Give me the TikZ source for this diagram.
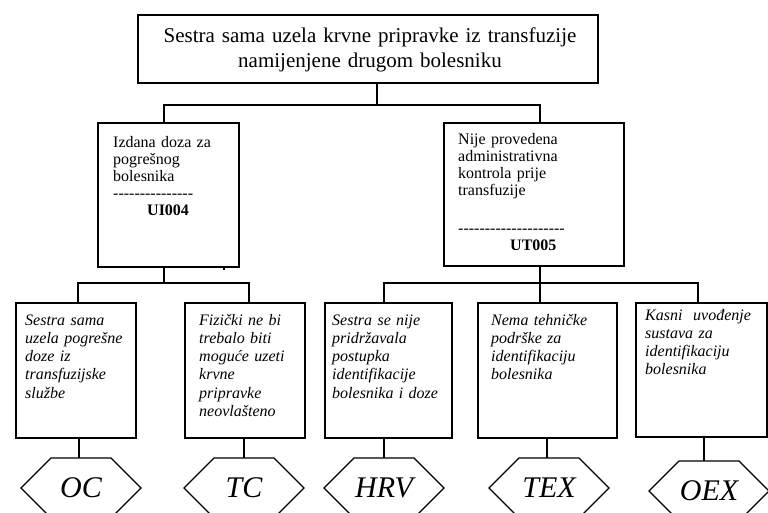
\documentclass[tikz,border=0pt]{standalone}
\usepackage{fontspec}
\setmainfont{Liberation Serif}
\newfontfamily\nolig{Liberation Serif}[Ligatures=TeXOff]
\usetikzlibrary{calc}
\begin{document}
\begin{tikzpicture}[x=1pt,y=-1pt,
  box/.style={draw, line width=1.6pt, inner sep=0pt, anchor=north west},
  conn/.style={line width=1.4pt},
  midtxt/.style={anchor=base west, inner sep=0pt, text width=#1, align=left, font=\fontsize{16}{17}\selectfont},
  lowtxt/.style={anchor=base west, inner sep=0pt, text width=#1, align=left, font=\fontsize{16}{18.3}\selectfont\itshape},
  hexlab/.style={minimum width=120pt, minimum height=60pt, inner sep=0pt, outer sep=0pt, font=\fontsize{30}{30}\selectfont\itshape},
  hexline/.style={line width=1.3pt, line join=miter}
]
\useasboundingbox (0,0) rectangle (768,513);

% top
\node[box, minimum width=460pt, minimum height=68pt] (top) at (137,14) {};
\node[anchor=base, inner sep=0pt, text width=450pt, align=center, font=\fontsize{21}{25}\selectfont] (toptxt) at (370,43) {Sestra sama uzela krvne pripravke iz transfuzije\\namijenjene drugom bolesniku};

% middle
\node[box, minimum width=141pt, minimum height=144pt] (ml) at (97,122) {};
\node[midtxt=130pt] (mltxt) at (113,148) {Izdana doza za\\pogrešnog\\bolesnika\\{\nolig ---------------}\\\hspace*{34pt}\textbf{UI004}};

\node[box, minimum width=180pt, minimum height=143pt] (mr) at (443,122) {};
\node[midtxt=165pt] (mrtxt) at (458,145) {Nije provedena\\administrativna\\kontrola prije\\transfuzije\\[21pt]{\nolig --------------------}\\\hspace*{52pt}\textbf{UT005}};

% bottom boxes
\node[box, minimum width=120pt, minimum height=135pt] (b1) at (15,302) {};
\node[box, minimum width=120pt, minimum height=135pt] (b2) at (184,302) {};
\node[box, minimum width=127pt, minimum height=135pt] (b3) at (324,302) {};
\node[box, minimum width=139pt, minimum height=135pt] (b4) at (477,302) {};
\node[box, minimum width=131pt, minimum height=134pt] (b5) at (635,302) {};

\node[lowtxt=115pt] (t1) at (25,325) {Sestra sama\\uzela pogrešne\\doze iz\\transfuzijske\\službe};
\node[lowtxt=110pt] (t2) at (199,325) {Fizički ne bi\\trebalo biti\\moguće uzeti\\krvne\\pripravke\\neovlašteno};
\node[lowtxt=120pt] (t3) at (332,325) {Sestra se nije\\pridržavala\\postupka\\identifikacije\\bolesnika i doze};
\node[lowtxt=120pt] (t4) at (491,325) {Nema tehničke\\podrške za\\identifikaciju\\bolesnika};
\node[lowtxt=120pt] (t5) at (645,320) {Kasni~ uvođenje\\sustava za\\identifikaciju\\bolesnika};

% hexagons
\node[hexlab] (h1) at (81,488) {OC};
\node[hexlab] (h2) at (244,488) {TC};
\node[hexlab] (h3) at (384,488) {HRV};
\node[hexlab] (h4) at (549,488) {TEX};
\node[hexlab] (h5) at (709,491) {OEX};
\foreach \h in {h1,h2,h3,h4,h5}
  \draw[hexline] (\h.west) -- ($(\h.north west)+(30,0)$) -- ($(\h.north east)+(-30,0)$) -- (\h.east) -- ($(\h.south east)+(-30,0)$) -- ($(\h.south west)+(30,0)$) -- cycle;

% connectors
\coordinate (j0) at (377,105);
\coordinate (bA) at (164,105);
\coordinate (bB) at (540,105);
\draw[conn] (top.south -| j0) -- (j0);
\draw[conn] (bA |- ml.north) -- (bA) -- (bB) -- (bB |- mr.north);

\coordinate (cA) at (164,283);
\coordinate (c1) at (78,283);
\coordinate (c2) at (249,283);
\draw[conn] (cA |- ml.south) -- (cA);
\draw[conn] (c1 |- b1.north) -- (c1) -- (c2) -- (c2 |- b2.north);

\coordinate (dA) at (540,283);
\coordinate (d3) at (384,283);
\coordinate (d5) at (698,283);
\draw[conn] (dA |- mr.south) -- (dA);
\draw[conn] (d3 |- b3.north) -- (d3) -- (d5) -- (d5 |- b5.north);
\draw[conn] (dA) -- (dA |- b4.north);

\coordinate (tk) at (224,270);
\draw[line width=1.2pt] (ml.south -| tk) -- (tk);

\coordinate (e1) at (79,0);
\coordinate (e2) at (244,0);
\coordinate (e3) at (384,0);
\coordinate (e4) at (547,0);
\coordinate (e5) at (704,0);
\draw[conn] (b1.south -| e1) -- (h1.north -| e1);
\draw[conn] (b2.south -| e2) -- (h2.north -| e2);
\draw[conn] (b3.south -| e3) -- (h3.north -| e3);
\draw[conn] (b4.south -| e4) -- (h4.north -| e4);
\draw[conn] (b5.south -| e5) -- (h5.north -| e5);
\end{tikzpicture}
\end{document}
